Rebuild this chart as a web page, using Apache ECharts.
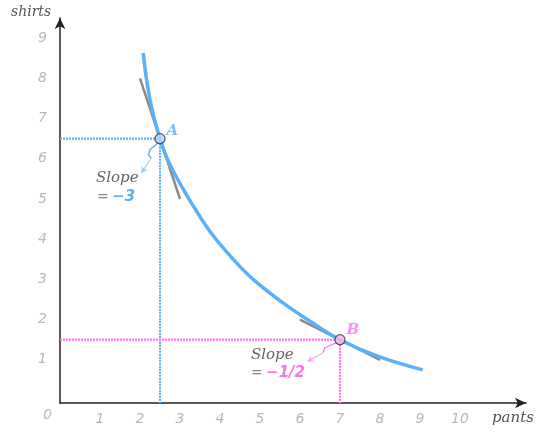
<!DOCTYPE html>
<html>
<head>
<meta charset="utf-8">
<script src="https://cdn.jsdelivr.net/npm/echarts@6/dist/echarts.min.js"></script>
<style>html,body{margin:0;padding:0;background:#fff}#c{width:536px;height:434px}</style>
</head>
<body>
<div id="c"></div>
<script>
// ---- data ----
var curveX = [2.08, 2.25, 2.5, 2.75, 3.25, 3.75, 4.25, 4.75, 5.25, 5.75, 6.25, 7.0, 7.94, 9.07];
var curveY = [8.63, 7.47, 6.5, 5.85, 4.96, 4.19, 3.59, 3.07, 2.66, 2.29, 1.96, 1.5, 1.09, 0.75];
var pointA = [2.5, 6.5];
var pointB = [7, 1.5];
var tangentAX = [2, 3];
var tangentAY = [8, 5];
var tangentBX = [6, 8];
var tangentBY = [2, 1];
var wiggleAX = [2.46, 2.25, 2.21, 2.28];
var wiggleAY = [6.40, 6.23, 6.10, 6.02];
var arrowATip = [2.04, 5.65];
var wiggleBX = [6.95, 6.62, 6.58];
var wiggleBY = [1.44, 1.30, 1.18];
var arrowBTip = [6.19, 0.96];
var xTicks = [1, 2, 3, 4, 5, 6, 7, 8, 9, 10];
var yTicks = [1, 2, 3, 4, 5, 6, 7, 8, 9];
var slopeA = '−3';
var slopeB = '−1/2';

var BLUE = '#5cb0f7';
var PINK = '#fb74ec';
var GRAY = '#8a8a8a';
var yMin = -0.0746, yMax = 9.502, xMax = 11.65;

function zip(a, b) { return a.map(function (v, i) { return [v, b[i]]; }); }

var chart = echarts.init(document.getElementById('c'), null, {renderer: 'canvas'});
var labelFont = {color: '#b9b9b9', fontStyle: 'italic', fontFamily: 'DejaVu Sans', fontSize: 14};
var option = {
  animation: false,
  grid: {left: 60, right: 10, top: 18, bottom: 31},
  xAxis: {
    type: 'value', min: 0, max: xMax,
    axisLine: {onZero: false, symbol: ['none', 'arrow'], symbolSize: [8, 11], lineStyle: {color: '#222', width: 1.5}},
    axisTick: {show: false}, splitLine: {show: false},
    axisLabel: Object.assign({customValues: xTicks, margin: 9}, labelFont)
  },
  yAxis: {
    type: 'value', min: yMin, max: yMax,
    axisLine: {onZero: false, symbol: ['none', 'arrow'], symbolSize: [8, 11], lineStyle: {color: '#222', width: 1.5}},
    axisTick: {show: false}, splitLine: {show: false},
    axisLabel: Object.assign({customValues: yTicks, margin: 13}, labelFont)
  },
  graphic: [
    {type: 'text', left: 11, top: 5, style: {text: 'shirts', fill: '#555', font: 'italic 14px "DejaVu Serif"'}},
    {type: 'text', left: 492, top: 411, style: {text: 'pants', fill: '#555', font: 'italic 15px "DejaVu Serif"'}},
    {type: 'text', left: 43, top: 408, style: {text: '0', fill: '#b9b9b9', font: 'italic 14px "DejaVu Sans"'}},
    {type: 'text', left: 96, top: 171, style: {text: 'Slope', fill: '#666', font: 'italic 15px "DejaVu Serif"'}},
    {type: 'text', left: 97, top: 190, style: {
      text: '{e|=} {v|' + slopeA + '}',
      rich: {e: {fill: '#888', font: '14px "DejaVu Sans"'}, v: {fill: BLUE, font: 'italic bold 15px "DejaVu Sans"'}}
    }},
    {type: 'text', left: 251, top: 348, style: {text: 'Slope', fill: '#666', font: 'italic 15px "DejaVu Serif"'}},
    {type: 'text', left: 251, top: 366, style: {
      text: '{e|=} {v|' + slopeB + '}',
      rich: {e: {fill: '#888', font: '14px "DejaVu Sans"'}, v: {fill: PINK, font: 'italic bold 15px "DejaVu Sans"'}}
    }}
  ],
  series: [
    {type: 'line', data: [[0, pointA[1]], pointA, [pointA[0], yMin]], showSymbol: false, z: 1,
     lineStyle: {color: BLUE, width: 2.2, type: [2, 1]}},
    {type: 'line', data: [[0, pointB[1]], pointB, [pointB[0], yMin]], showSymbol: false, z: 1,
     lineStyle: {color: PINK, width: 2.2, type: [2, 1]}},
    {type: 'line', data: zip(tangentAX, tangentAY), showSymbol: false, z: 2, lineStyle: {color: GRAY, width: 2.5}},
    {type: 'line', data: zip(tangentBX, tangentBY), showSymbol: false, z: 2, lineStyle: {color: GRAY, width: 2.5}},
    {type: 'line', data: zip(curveX, curveY), smooth: 0.45, showSymbol: false, z: 3,
     lineStyle: {color: BLUE, width: 3.5}},
    {type: 'line', data: zip(wiggleAX, wiggleAY), showSymbol: false, z: 4, lineStyle: {color: BLUE, width: 1.3}},
    {type: 'line', data: zip(wiggleBX, wiggleBY), showSymbol: false, z: 4, lineStyle: {color: PINK, width: 1.3}},
    {type: 'lines', coordinateSystem: 'cartesian2d', z: 4, symbol: ['none', 'arrow'], symbolSize: 6,
     data: [
       {coords: [[wiggleAX[wiggleAX.length - 1], wiggleAY[wiggleAY.length - 1]], arrowATip], lineStyle: {color: BLUE, width: 1.3}},
       {coords: [[wiggleBX[wiggleBX.length - 1], wiggleBY[wiggleBY.length - 1]], arrowBTip], lineStyle: {color: PINK, width: 1.3}}
     ]},
    {type: 'scatter', z: 5, symbolSize: 10,
     data: [
       {value: pointA, itemStyle: {color: '#b3dafb', borderColor: '#333', borderWidth: 1.2},
        label: {show: true, formatter: 'A', position: 'right', distance: 1, offset: [0, -8], color: BLUE, fontStyle: 'italic', fontWeight: 'bold', fontSize: 15, fontFamily: 'DejaVu Serif'}},
       {value: pointB, itemStyle: {color: '#fab6f2', borderColor: '#333', borderWidth: 1.2},
        label: {show: true, formatter: 'B', position: 'right', distance: 1, offset: [0, -10], color: PINK, fontStyle: 'italic', fontWeight: 'bold', fontSize: 15, fontFamily: 'DejaVu Serif'}}
     ]}
  ]
};
chart.setOption(option);
</script>
</body>
</html>
